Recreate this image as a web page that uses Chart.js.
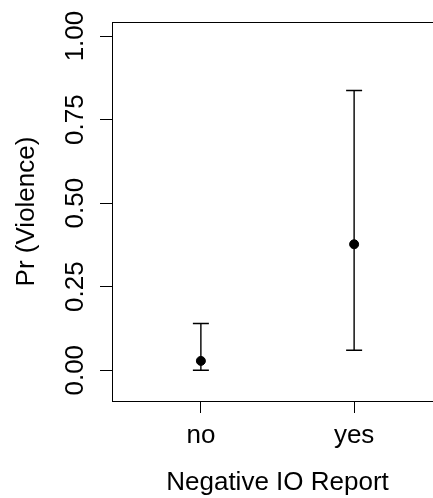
<!DOCTYPE html>
<html>
<head>
<meta charset="utf-8">
<script src="https://cdn.jsdelivr.net/npm/chart.js@4/dist/chart.umd.min.js"></script>
<style>
  html, body { margin: 0; padding: 0; background: #fff; overflow: hidden; }
  #wrap { width: 433px; height: 498px; overflow: hidden; position: relative; }
  #violence-chart { position: absolute; left: 0; top: 0; }
</style>
</head>
<body>
<div id="wrap">
<canvas id="violence-chart" width="460" height="498"></canvas>
</div>
<script>
// values
var categories = ['no', 'yes'];
var estimates = [0.028, 0.377];
var lowerBounds = [0.0, 0.06];
var upperBounds = [0.14, 0.837];
var yTicks = [0, 0.25, 0.5, 0.75, 1];

var fontFamily = '"Liberation Sans", Arial, Helvetica, sans-serif';

var points = [];
for (var i in categories) {
    points.push({ x: Number(i) + 1, y: estimates[i] });
}

// whiskers with caps, drawn from the chart's own scales
var errorBars = {
    id: 'errorBars',
    beforeDatasetsDraw: function(chart) {
        var ctx = chart.ctx;
        var xs = chart.scales.x, ys = chart.scales.y;
        ctx.save();
        ctx.strokeStyle = '#000';
        ctx.lineWidth = 1.4;
        for (var i = 0; i < categories.length; i++) {
            var px = xs.getPixelForValue(i + 1);
            var lo = ys.getPixelForValue(lowerBounds[i]);
            var hi = ys.getPixelForValue(upperBounds[i]);
            ctx.beginPath();
            ctx.moveTo(px, lo); ctx.lineTo(px, hi);
            ctx.moveTo(px - 8, lo); ctx.lineTo(px + 8, lo);
            ctx.moveTo(px - 8, hi); ctx.lineTo(px + 8, hi);
            ctx.stroke();
        }
        ctx.restore();
    },
    afterDraw: function(chart) {
        // top edge of the R box; the right edge lies outside the window
        var a = chart.chartArea, ctx = chart.ctx;
        var top = Math.round(a.top) + 0.5;
        ctx.save();
        ctx.strokeStyle = '#000';
        ctx.lineWidth = 1;
        ctx.beginPath();
        ctx.moveTo(a.left, top);
        ctx.lineTo(a.right, top);
        ctx.stroke();
        ctx.restore();
    }
};

var ctx = document.getElementById('violence-chart');
var myChart = new Chart(ctx, {
    type: 'scatter',
    data: {
        datasets: [{
            data: points,
            backgroundColor: '#000',
            borderColor: '#000',
            pointRadius: 4.5,
            pointHoverRadius: 4.5
        }]
    },
    options: {
        responsive: false,
        animation: false,
        layout: { padding: { left: 0, right: 17, top: 22, bottom: 0 } },
        plugins: { legend: { display: false }, tooltip: { enabled: false } },
        scales: {
            x: {
                type: 'linear',
                min: 0.42,
                max: 2.58,
                afterBuildTicks: function(scale) {
                    scale.ticks = categories.map(function(c, i) { return { value: i + 1 }; });
                },
                afterFit: function(scale) { scale.height = 97; },
                grid: { drawOnChartArea: false, color: '#000', tickLength: 12 },
                border: { display: true, color: '#000', width: 1 },
                ticks: {
                    color: '#000',
                    padding: 7,
                    maxRotation: 0,
                    font: { family: fontFamily, size: 26 },
                    callback: function(value) { return categories[value - 1]; }
                },
                title: {
                    display: true,
                    text: 'Negative IO Report',
                    color: '#000',
                    padding: { top: 0, bottom: 0 },
                    font: { family: fontFamily, size: 26 }
                }
            },
            y: {
                min: -0.092,
                max: 1.042,
                afterBuildTicks: function(scale) {
                    scale.ticks = yTicks.map(function(v) { return { value: v }; });
                },
                afterFit: function(scale) { scale.width = 112; },
                grid: { drawOnChartArea: false, color: '#000', tickLength: 12 },
                border: { display: true, color: '#000', width: 1 },
                ticks: {
                    color: '#000',
                    padding: -1,
                    minRotation: 90,
                    maxRotation: 90,
                    crossAlign: 'center',
                    font: { family: fontFamily, size: 26 },
                    callback: function(value) { return value.toFixed(2); }
                },
                title: {
                    display: true,
                    text: 'Pr (Violence)',
                    color: '#000',
                    padding: { top: 11, bottom: 0 },
                    font: { family: fontFamily, size: 26 }
                }
            }
        }
    },
    plugins: [errorBars]
});
</script>
</body>
</html>
